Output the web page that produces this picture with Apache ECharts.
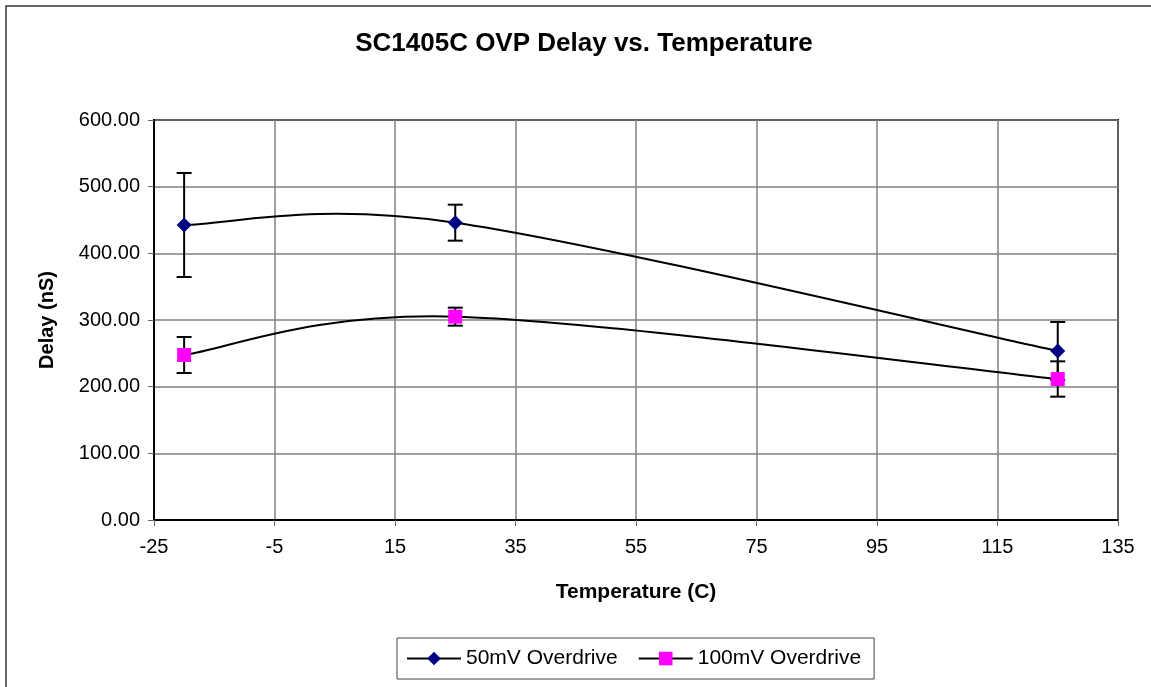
<!DOCTYPE html>
<html>
<head>
<meta charset="utf-8">
<script src="https://cdn.jsdelivr.net/npm/echarts@6/dist/echarts.min.js"></script>
<style>
  html, body { margin: 0; padding: 0; background: #fff; }
  #chart { width: 1151px; height: 687px; }
</style>
</head>
<body>
<div id="chart"></div>
<script>
// temperatures (C)
const temps = [-20, 25, 125]
// 50mV overdrive delay (nS) and error (+/-)
const delay50 = [442.5, 446, 253.5]
const err50 = [78, 27, 43.5]
// 100mV overdrive delay (nS) and error (+/-)
const delay100 = [247.5, 305, 211.5]
const err100 = [27, 13.5, 26.5]

const xTicks = { min: -25, max: 135, step: 20 }
const yTicks = { min: 0, max: 600, step: 100 }

const font = 'Arial, "Liberation Sans", sans-serif'

const pairs = (xs, ys) => xs.map((x, i) => [x, ys[i]])
const errRows = (xs, ys, es) => xs.map((x, i) => [x, ys[i] - es[i], ys[i] + es[i]])

// vertical error bars with caps
const errorBars = (name, rows) => ({
  name: name + ' err',
  type: 'custom',
  z: 1,
  silent: true,
  data: rows,
  renderItem (params, api) {
    const x = api.value(0)
    const lo = api.coord([x, api.value(1)])
    const hi = api.coord([x, api.value(2)])
    const half = 7.5
    const style = { stroke: '#000', lineWidth: 2 }
    return {
      type: 'group',
      children: [
        { type: 'line', shape: { x1: lo[0], y1: lo[1], x2: hi[0], y2: hi[1] }, style },
        { type: 'line', shape: { x1: lo[0] - half, y1: lo[1], x2: lo[0] + half, y2: lo[1] }, style },
        { type: 'line', shape: { x1: hi[0] - half, y1: hi[1], x2: hi[0] + half, y2: hi[1] }, style }
      ]
    }
  }
})

// excel-like smoothed line (bezier, 1/6 of neighbour span), one segment per item
const smoothCurve = (name, xs, ys) => ({
  name: name + ' curve',
  type: 'custom',
  z: 2,
  silent: true,
  data: pairs(xs, ys),
  renderItem (params, api) {
    const i = params.dataIndex
    const last = xs.length - 1
    if (i >= last) return null
    const p = k => {
      const j = Math.max(0, Math.min(last, k))
      return api.coord([xs[j], ys[j]])
    }
    const p0 = p(i - 1)
    const p1 = p(i)
    const p2 = p(i + 1)
    const p3 = p(i + 2)
    const c1 = [p1[0] + (p2[0] - p0[0]) / 6, p1[1] + (p2[1] - p0[1]) / 6]
    const c2 = [p2[0] - (p3[0] - p1[0]) / 6, p2[1] - (p3[1] - p1[1]) / 6]
    return {
      type: 'bezierCurve',
      shape: { x1: p1[0], y1: p1[1], cpx1: c1[0], cpy1: c1[1], cpx2: c2[0], cpy2: c2[1], x2: p2[0], y2: p2[1] },
      style: { stroke: '#000', lineWidth: 2, fill: 'none' }
    }
  }
})

const chart = echarts.init(document.getElementById('chart'))

chart.setOption({
  backgroundColor: '#fff',
  animation: false,
  title: {
    text: 'SC1405C OVP Delay vs. Temperature',
    left: 579,
    top: 26,
    textAlign: 'center',
    textStyle: { fontFamily: font, fontSize: 26, fontWeight: 'bold', color: '#000' }
  },
  graphic: [
    {
      type: 'rect',
      shape: { x: 6, y: 6, width: 1170, height: 710 },
      style: { fill: 'none', stroke: '#333', lineWidth: 1.5 },
      silent: true
    }
  ],
  legend: {
    left: 397,
    top: 638,
    padding: [10, 13, 10, 9],
    borderColor: '#444',
    borderWidth: 1,
    itemWidth: 54,
    itemHeight: 17,
    itemGap: 20,
    lineStyle: { color: '#000', width: 2, opacity: 1 },
    textStyle: { fontFamily: font, fontSize: 21, color: '#000' },
    data: ['50mV Overdrive', '100mV Overdrive']
  },
  grid: {
    left: 154,
    right: 33,
    top: 120,
    bottom: 167,
    show: true,
    borderColor: '#000',
    borderWidth: 2,
    containLabel: false
  },
  xAxis: {
    type: 'value',
    min: xTicks.min,
    max: xTicks.max,
    interval: xTicks.step,
    name: 'Temperature (C)',
    nameLocation: 'middle',
    nameGap: 62,
    nameTextStyle: { fontFamily: font, fontSize: 21, fontWeight: 'bold', color: '#000' },
    axisLine: { onZero: false, lineStyle: { color: '#000', width: 2 } },
    axisTick: { show: true, length: 6, lineStyle: { color: '#666' } },
    axisLabel: { fontFamily: font, fontSize: 20, color: '#000', margin: 17 },
    splitLine: { show: true, lineStyle: { color: '#808080', width: 1.5 } }
  },
  yAxis: {
    type: 'value',
    min: yTicks.min,
    max: yTicks.max,
    interval: yTicks.step,
    name: 'Delay (nS)',
    nameLocation: 'middle',
    nameGap: 97,
    nameTextStyle: { fontFamily: font, fontSize: 20, fontWeight: 'bold', color: '#000' },
    axisLine: { onZero: false, lineStyle: { color: '#000', width: 2 } },
    axisTick: { show: true, length: 6, lineStyle: { color: '#666' } },
    axisLabel: {
      fontFamily: font,
      fontSize: 20,
      color: '#000',
      margin: 14,
      formatter: v => v.toFixed(2)
    },
    splitLine: { show: true, lineStyle: { color: '#808080', width: 1.5 } }
  },
  series: [
    errorBars('50mV Overdrive', errRows(temps, delay50, err50)),
    errorBars('100mV Overdrive', errRows(temps, delay100, err100)),
    smoothCurve('50mV Overdrive', temps, delay50),
    smoothCurve('100mV Overdrive', temps, delay100),
    {
      name: '50mV Overdrive',
      type: 'line',
      z: 3,
      data: pairs(temps, delay50),
      symbol: 'diamond',
      symbolSize: 15,
      lineStyle: { color: '#000', width: 2, opacity: 0 },
      itemStyle: { color: '#000080', borderWidth: 0 }
    },
    {
      name: '100mV Overdrive',
      type: 'line',
      z: 4,
      data: pairs(temps, delay100),
      symbol: 'rect',
      symbolSize: 14,
      lineStyle: { color: '#000', width: 2, opacity: 0 },
      itemStyle: { color: '#ff00ff', borderWidth: 0 }
    }
  ]
})
</script>
</body>
</html>
